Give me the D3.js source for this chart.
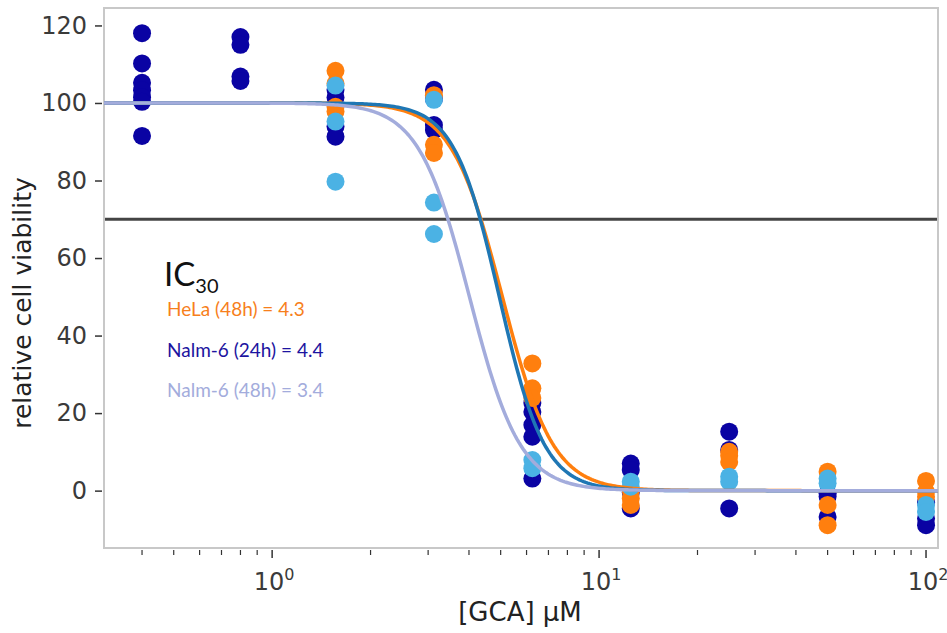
<!DOCTYPE html>
<html><head><meta charset="utf-8">
<script src="https://cdn.jsdelivr.net/npm/d3@7"></script>
<style>html,body{margin:0;padding:0;background:#fff;}svg{display:block;}</style>
</head><body>
<svg id="chart" width="947" height="633"></svg>
<script>
// ---- data ----
const concentrations = [0.4, 0.8, 1.5625, 3.125, 6.25, 12.5, 25, 50, 100];
const nalm24Values = [
  [118, 110.2, 105.2, 103.3, 101.5, 100.3, 91.5],
  [117, 115, 106.8, 105.7],
  [103.4, 101.4, 93.9, 91.3],
  [103.4, 101, 94.3, 93],
  [22.6, 20.3, 16.9, 13.9, 3.1],
  [7, 5.3, -0.5, -4.6],
  [15.2, 10.5, -4.6],
  [-0.7, -1.5, -6.8],
  [-7.2, -8.9, -3]
];
const helaValues = [
  [], [],
  [108.3, 105, 99, 97.8],
  [102, 89.2, 87.1],
  [32.8, 26.4, 23.9],
  [0, -2, -3.7],
  [10, 9, 7.4],
  [4.9, -3.7, -8.9],
  [2.5, -0.3, -1.6]
];
const nalm48Values = [
  [], [],
  [104.5, 95.2, 79.7],
  [100.8, 74.3, 66.2],
  [7.9, 5.8],
  [2.3, 1],
  [3.6, 2.3],
  [3.1, 1.9],
  [-3.7, -5.5]
];
const seriesNames = ["Nalm-6 (24h)", "HeLa (48h)", "Nalm-6 (48h)"];
const pointColors = ["#0a03a3", "#ff7f0e", "#4bb2e4"];
// fitted dose-response curves (IC30 and Hill slope)
const curveNames = ["HeLa (48h)", "Nalm-6 (24h)", "Nalm-6 (48h)"];
const curveIC30 = [4.35, 4.33, 3.45];
const curveHill = [5.6, 6.3, 5.6];
const curveColors = ["#ff7f0e", "#1f77b4", "#a3acdc"];
const legendLabels = ["HeLa (48h) = 4.3", "Nalm-6 (24h) = 4.4", "Nalm-6 (48h) = 3.4"];
const legendColors = ["#f77f1c", "#1c14a0", "#a3acdc"];
const yTicks = [0, 20, 40, 60, 80, 100, 120];
const xMajorTicks = [1, 10, 100];
const thresholdValue = 70;

// ---- layout ----
const svg = d3.select("#chart");
const L = 104, T = 8, R = 938, B = 548;
const x = d3.scaleLog().domain([0.306, 108.8]).range([L, R]);
const y = d3.scaleLinear().domain([-14.8, 124.5]).range([B, T]);

// frame
svg.append("rect").attr("x", L).attr("y", T).attr("width", R - L).attr("height", B - T)
  .attr("fill", "none").attr("stroke", "#c8c8c8").attr("stroke-width", 2);

// y axis
const yAxis = d3.axisLeft(y).tickValues(yTicks).tickSize(7).tickPadding(8);
const gy = svg.append("g").attr("transform", `translate(${L - 2},0)`).call(yAxis);
gy.select(".domain").remove();
gy.selectAll("line").attr("stroke", "#333").attr("stroke-width", 1.5);
gy.selectAll("text").attr("font-family", "DejaVu Sans").attr("font-size", 24).attr("fill", "#3a3a3a");

// x axis: major + minor ticks
const minorTicks = [];
[0.1, 1, 10].forEach(d => { for (let k = 2; k <= 9; k++) { const v = d * k; if (v >= 0.306 && v <= 108.8) minorTicks.push(v); } });
const gx = svg.append("g").attr("transform", `translate(0,${B + 2})`);
gx.selectAll("line.minor").data(minorTicks).join("line").attr("class", "minor")
  .attr("x1", d => x(d)).attr("x2", d => x(d)).attr("y1", 0).attr("y2", 5)
  .attr("stroke", "#333").attr("stroke-width", 1.2);
gx.selectAll("line.major").data(xMajorTicks).join("line").attr("class", "major")
  .attr("x1", d => x(d)).attr("x2", d => x(d)).attr("y1", 0).attr("y2", 8)
  .attr("stroke", "#333").attr("stroke-width", 1.5);
const xl = gx.selectAll("text").data(xMajorTicks).join("text")
  .attr("x", d => x(d) + 2).attr("y", 40).attr("text-anchor", "middle")
  .attr("font-family", "DejaVu Sans").attr("font-size", 24).attr("fill", "#3a3a3a");
xl.append("tspan").text("10");
xl.append("tspan").attr("dy", -10).attr("font-size", 16).text(d => Math.round(Math.log10(d)));

// axis titles
svg.append("text").attr("transform", `translate(31,${(T + B) / 2 + 25}) rotate(-90)`)
  .attr("text-anchor", "middle").attr("font-family", "DejaVu Sans").attr("font-size", 25)
  .attr("fill", "#222").text("relative cell viability");
svg.append("text").attr("x", 520).attr("y", 621).attr("text-anchor", "middle")
  .attr("font-family", "DejaVu Sans").attr("font-size", 26).attr("fill", "#222").text("[GCA] μM");

// points
const plot = svg.append("g");
[nalm24Values, helaValues, nalm48Values].forEach((vals, si) => {
  const pts = [];
  vals.forEach((arr, ci) => arr.forEach(v => pts.push({ c: concentrations[ci], v })));
  plot.append("g").selectAll("circle").data(pts).join("circle")
    .attr("cx", d => x(d.c)).attr("cy", d => y(d.v)).attr("r", 9)
    .attr("fill", pointColors[si]);
});

// threshold line
svg.append("line").attr("x1", L + 1).attr("x2", R - 1).attr("y1", y(thresholdValue)).attr("y2", y(thresholdValue))
  .attr("stroke", "#444").attr("stroke-width", 3);

// curves
const grid = d3.range(0, 401).map(i => Math.pow(10, Math.log10(0.306) + i / 400 * (Math.log10(108.8) - Math.log10(0.306))));
const line = d3.line().x(d => x(d[0])).y(d => y(d[1]));
curveIC30.forEach((ic, i) => {
  const h = curveHill[i];
  const k = 3 / 7;
  const pts = grid.map(c => [c, 100 / (1 + k * Math.pow(c / ic, h))]);
  svg.append("path").datum(pts).attr("d", line).attr("fill", "none")
    .attr("stroke", curveColors[i]).attr("stroke-width", 3.5);
});

// annotation
const ic = svg.append("text").attr("x", 164).attr("y", 286).attr("font-family", "Lato").attr("fill", "#111");
ic.append("tspan").attr("font-size", 33).text("IC");
ic.append("tspan").attr("font-size", 20).attr("dy", 7).text("30");
legendLabels.forEach((t, i) => {
  svg.append("text").attr("x", 167).attr("y", 316 + i * 40.5).attr("font-family", "Lato")
    .attr("font-size", 19).attr("fill", legendColors[i]).text(t);
});
</script>
</body></html>
